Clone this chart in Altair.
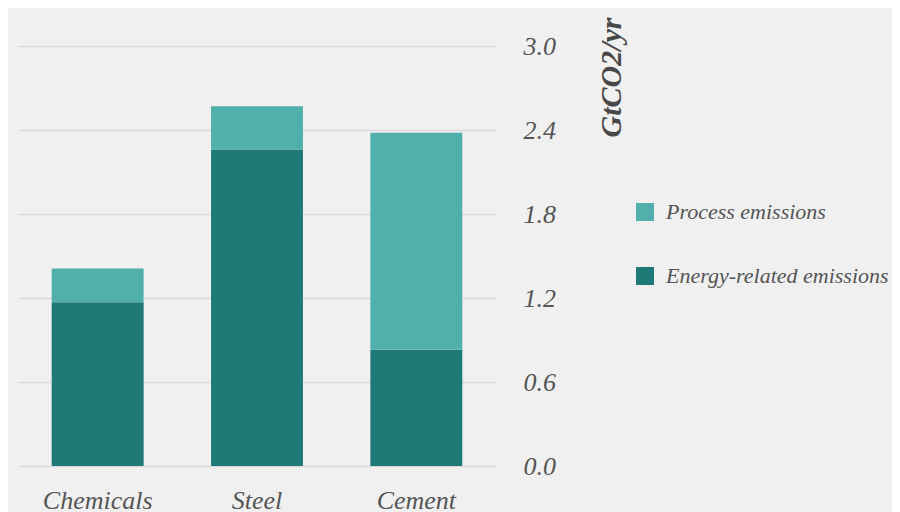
import altair as alt
import pandas as pd

categories = ["Chemicals", "Steel", "Cement"]
energy_related = [1.17, 2.26, 0.83]
process = [0.24, 0.31, 1.55]
series_names = ["Process emissions", "Energy-related emissions"]
series_colors = ["#52b0ac", "#1f7a77"]
y_ticks = [0.0, 0.6, 1.2, 1.8, 2.4, 3.0]

rows = []
for c, e, p in zip(categories, energy_related, process):
    rows.append({"sector": c, "series": "Energy-related emissions", "value": e, "ord": 0})
    rows.append({"sector": c, "series": "Process emissions", "value": p, "ord": 1})
df = pd.DataFrame(rows)

FONT = "Liberation Serif"
TXT = "#555555"

chart = alt.Chart(df).mark_bar().encode(
    x=alt.X("sector:N", sort=categories,
            scale=alt.Scale(paddingInner=0.423, paddingOuter=0.2115),
            axis=alt.Axis(title=None, labelAngle=0, ticks=False, tickSize=0, domain=False,
                          labelFont=FONT, labelFontStyle="italic", labelFontSize=26,
                          labelColor=TXT, labelBaseline="alphabetic", labelPadding=42)),
    y=alt.Y("value:Q", stack="zero",
            scale=alt.Scale(domain=[0, 3.0], nice=False),
            axis=alt.Axis(orient="right", values=y_ticks, format=".1f", title="GtCO2/yr",
                          ticks=False, domain=False, grid=True, gridColor="#dadada", gridWidth=1.5,
                          labelFont=FONT, labelFontStyle="italic", labelFontSize=26,
                          labelColor=TXT, labelPadding=27, labelAlign="left",
                          titleFont=FONT, titleFontStyle="italic", titleFontSize=30,
                          titleFontWeight="bold", titleColor="#484848", titleAngle=270,
                          titleAlign="left", titleBaseline="alphabetic",
                          titleX=124, titleY=91)),
    color=alt.Color("series:N",
                    scale=alt.Scale(domain=series_names, range=series_colors),
                    legend=alt.Legend(title=None, orient="none", legendX=616, legendY=155,
                                      symbolType="square", symbolSize=324, symbolStrokeWidth=0,
                                      labelFont=FONT, labelFontStyle="italic", labelFontSize=22,
                                      labelColor=TXT, labelOffset=10, labelLimit=400,
                                      rowPadding=42, padding=0)),
    order=alt.Order("ord:Q", sort="ascending"),
).properties(
    width=478, height=420,
    background="#f0f0f0",
    padding={"left": 10, "top": 38, "right": 396, "bottom": 46},
    autosize=alt.AutoSizeParams(type="none"),
).configure_view(stroke=None)

chart.save("out.html", embed_options={"renderer": "svg", "actions": False})
